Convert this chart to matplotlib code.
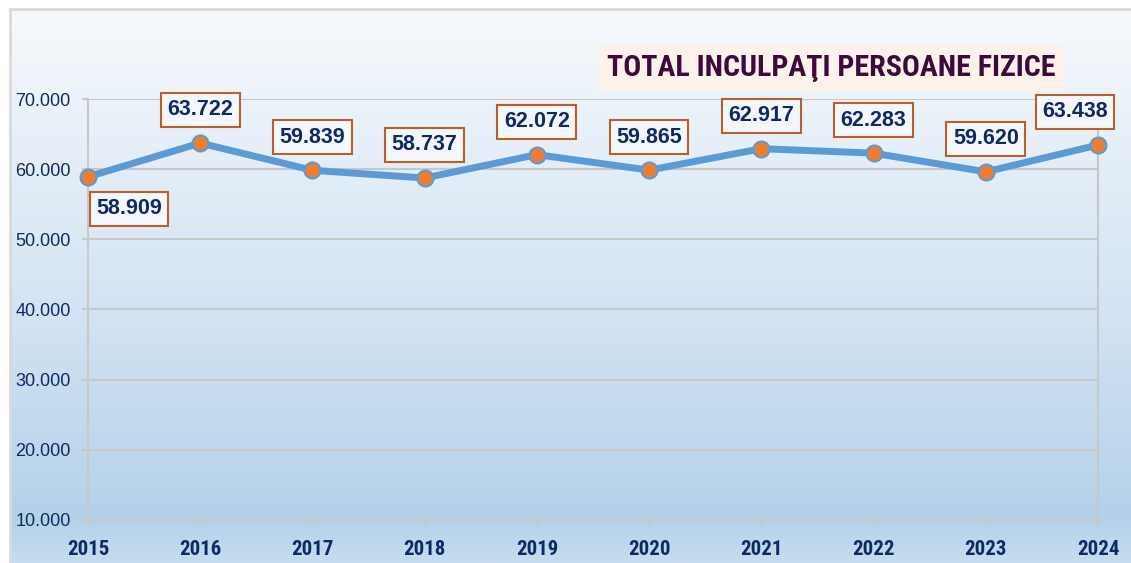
import numpy as np
import matplotlib.pyplot as plt
from matplotlib import font_manager
from matplotlib.colors import LinearSegmentedColormap
from matplotlib.ticker import FuncFormatter

# date
years = ['2015', '2016', '2017', '2018', '2019', '2020', '2021', '2022', '2023', '2024']
inculpati = [58909, 63722, 59839, 58737, 62072, 59865, 62917, 62283, 59620, 63438]
y_ticks = [10000, 20000, 30000, 40000, 50000, 60000, 70000]
titlu = 'TOTAL INCULPAŢI PERSOANE FIZICE'

plt.rcParams['font.family'] = ['Liberation Sans', 'DejaVu Sans']

# caut un font ingust, daca exista
installed = {f.name for f in font_manager.fontManager.ttflist}
narrow = None
for cand in ['Liberation Sans Narrow', 'Arial Narrow', 'Roboto Condensed',
             'Open Sans Condensed', 'DejaVu Sans Condensed']:
    if cand in installed:
        narrow = cand
        break
if narrow is not None:
    narrow_fam = [narrow, 'DejaVu Sans']
    title_size, year_size = 21.5, 15
else:
    narrow_fam = ['Liberation Sans', 'DejaVu Sans']
    title_size, year_size = 17, 13

W, H = 1131, 563
fig = plt.figure(figsize=(W / 100, H / 100), dpi=100)
fig.patch.set_facecolor('white')

navy = '#0e2a63'


def fmt(v, pos=None):
    return f'{v:,.0f}'.replace(',', '.')


# fundal cu gradient (cadrul exterior)
bg = fig.add_axes([10 / W, 0, 1 - 10 / W, 1 - 9 / H], zorder=-2)
cmap = LinearSegmentedColormap.from_list(
    'fundal', [(0.0, '#f7fafd'), (0.17, '#ebf2f9'), (0.55, '#d3e3f3'),
               (0.92, '#b4d1ea'), (1.0, '#c6dcf0')])
grad = np.linspace(0, 1, 256).reshape(-1, 1)
bg.imshow(grad, aspect='auto', cmap=cmap, extent=[0, 1, 1, 0])
bg.set_xlim(0, 1)
bg.set_ylim(1, 0)
bg.set_axis_off()
fig.add_artist(plt.Line2D([10 / W, 10 / W], [0, 1 - 9 / H], color='#d9d9d9', lw=2))
fig.add_artist(plt.Line2D([10 / W, 1], [1 - 9 / H, 1 - 9 / H], color='#d9d9d9', lw=2))

# zona graficului
left, right = 88 / W, 1098 / W
bottom, top = (H - 520) / H, (H - 99) / H
ax = fig.add_axes([left, bottom, right - left, top - bottom])
ax.set_facecolor('none')

x = np.arange(len(years))
ax.plot(x, inculpati, color='#5b9bd5', lw=5, solid_capstyle='round',
        marker='o', markersize=11.5, markerfacecolor='#ed7d31',
        markeredgecolor='#5b9bd5', markeredgewidth=1.5, zorder=4, clip_on=False)

ax.set_xlim(0, len(years) - 1)
ax.set_ylim(10000, 70000)
ax.set_yticks(y_ticks)
ax.yaxis.set_major_formatter(FuncFormatter(fmt))
ax.set_xticks(x)
ax.set_xticklabels(years, fontfamily=narrow_fam, fontweight='bold',
                   fontsize=year_size, color=navy)
ax.grid(axis='y', color='#c8c8c8', lw=1.5)
ax.set_axisbelow(True)

for s in ['left', 'bottom', 'right']:
    ax.spines[s].set_color('#c8c8c8')
    ax.spines[s].set_linewidth(1.5)
ax.spines['top'].set_visible(False)

ax.tick_params(axis='y', colors='#c8c8c8', labelcolor=navy, labelsize=13,
               length=4.5, width=1.5, pad=8)
ax.tick_params(axis='x', colors='#c8c8c8', labelcolor=navy,
               length=4.5, width=1.5, pad=10)

# etichete valori
for i, v in enumerate(inculpati):
    if i == 0:
        off = (29.5, -23)
    elif i == len(years) - 1:
        off = (-16.5, 23.8)
    else:
        off = (0, 23.8)
    ax.annotate(fmt(v), (i, v), xytext=off, textcoords='offset points',
                ha='center', va='center', fontsize=15.5, fontweight='bold',
                color=navy, zorder=6, annotation_clip=False,
                bbox=dict(boxstyle='square,pad=0.3', fc='#f3f7fc',
                          ec='#b8602a', lw=1.5))

# titlu
fig.text(831 / W, 1 - 68 / H, titlu, ha='center', va='center',
         fontsize=title_size, fontweight='bold', color='#3d0a3a',
         fontfamily=narrow_fam,
         bbox=dict(boxstyle='square,pad=0.3', fc='#fdf1eb', ec='none'))

fig.savefig('out.png', dpi=100)
